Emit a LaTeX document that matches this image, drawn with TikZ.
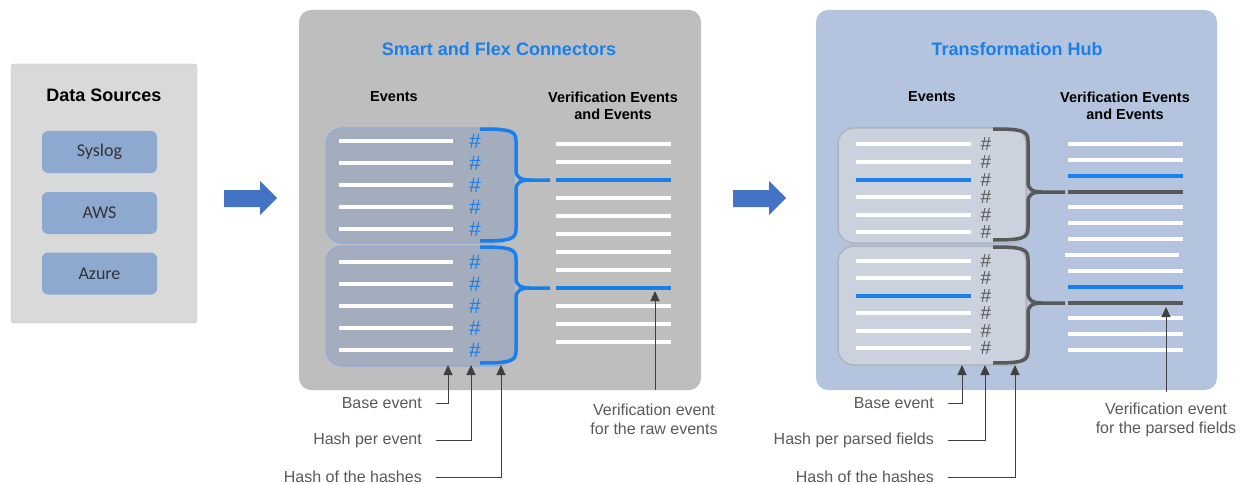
\documentclass[tikz,border=0pt]{standalone}
\usepackage{fontspec}
\setmainfont{Liberation Sans}
\newfontfamily\calibri{Carlito}
\usetikzlibrary{arrows.meta}

\definecolor{dsgrey}{HTML}{D9D9D9}
\definecolor{srcblue}{HTML}{8EA9D0}
\definecolor{flowblue}{HTML}{4472C4}
\definecolor{connbg}{HTML}{BEBEBE}
\definecolor{hubbg}{HTML}{B4C4DE}
\definecolor{hashblue}{HTML}{1A7FE8}
\definecolor{darkgrey}{HTML}{595959}
\definecolor{connbox}{HTML}{A3ADBE}
\definecolor{connedge}{HTML}{8FAAD8}
\definecolor{hubbox}{HTML}{CBD2DD}
\definecolor{hubedge}{HTML}{B0B4BA}

\begin{document}
\begin{tikzpicture}[
    x=1pt, y=-1pt,
    title/.style={font=\fontsize{18}{21}\selectfont\bfseries},
    colhead/.style={font=\fontsize{14.5}{17}\selectfont\bfseries, align=center},
    srcbox/.style={rectangle, rounded corners=6pt, fill=srcblue, minimum width=115pt, minimum height=42pt, font=\calibri\fontsize{18}{21}\selectfont, text=black!80},
    evline/.style={white, line width=3.3pt},
    hashmark/.style 2 args={font=\fontsize{#1}{18}\selectfont, inner sep=0pt, text height=#2, text depth=0pt},
    note/.style={font=\fontsize{16}{19}\selectfont, text=darkgrey, align=center},
    tag/.style={note, anchor=east, inner xsep=14pt, inner ysep=0pt},
    pointer/.style={draw=black!75, line width=1pt, -{Triangle[width=9pt,length=10pt]}},
    brace/.style={line width=3.5pt}
]
\useasboundingbox (0,0) rectangle (1247,484);

% Data sources
\draw[fill=dsgrey, draw=black!25, rounded corners=3pt] (11,64) rectangle (197,323);
\node[title] (dstitle) at (104,95) {Data Sources};
\node[srcbox] (syslog) at (99.5,152) {Syslog};
\node[srcbox] (aws) at (99.5,213) {AWS};
\node[srcbox] (azure) at (99.5,273.5) {Azure};

% Flow arrows
\fill[flowblue] (224,190) -- (260,190) -- (260,181) -- (277,198) -- (260,215) -- (260,207) -- (224,207) -- cycle;
\fill[flowblue] (733,190) -- (769,190) -- (769,181) -- (786,198) -- (769,215) -- (769,207) -- (733,207) -- cycle;

% Smart and Flex Connectors
\fill[connbg, rounded corners=12pt] (299,10) rectangle (701,390);
\node[title, text=hashblue] (conntitle) at (499,49) {Smart and Flex Connectors};
\node[colhead] (connev) at (394,97) {Events};
\node[colhead] (connver) at (613,105.5) {Verification Events\\and Events};

\draw[fill=connbox, draw=connedge, line width=1pt, rounded corners=16pt] (326,128) rectangle (514,243);
\draw[fill=connbox, draw=connedge, line width=1pt, rounded corners=16pt] (326,246) rectangle (514,366);
\foreach \y [count=\i] in {141,163,185,207,229,262,284,306,328,350} {
    \draw[evline] (339,\y) -- (453,\y);
    \node[hashmark={21}{14.5pt}, text=hashblue] (sh\i) at (475,\y) {\#};
}
\foreach \y in {144,162,198,216,234,252,270,306,324,342}
    \draw[evline] (556,\y) -- (671,\y);
\foreach \y in {180,288}
    \draw[hashblue, line width=3.5pt] (556,\y) -- (671,\y);

% Transformation Hub
\fill[hubbg, rounded corners=12pt] (816,10) rectangle (1217,390);
\node[title, text=hashblue] (hubtitle) at (1017,49) {Transformation Hub};
\node[colhead] (hubev) at (932,97) {Events};
\node[colhead] (hubver) at (1125,105.5) {Verification Events\\and Events};

\draw[fill=hubbox, draw=hubedge, line width=1.5pt, rounded corners=16pt] (838,128) rectangle (1026,243);
\draw[fill=hubbox, draw=hubedge, line width=1.5pt, rounded corners=16pt] (838,246) rectangle (1026,365);
\foreach \y [count=\i] in {144,162,180,197,215,232,261,278,296,313,331,348} {
    \draw[evline] (856,\y) -- (971,\y);
    \node[hashmark={19}{13pt}, text=darkgrey] (hh\i) at (986,\y) {\#};
}
\foreach \y in {180,296}
    \draw[hashblue, line width=3.3pt] (856,\y) -- (971,\y);
\foreach \y in {144,160,207,223,239,271,318,334,350}
    \draw[evline] (1068,\y) -- (1183,\y);
\draw[evline] (1065,255) -- (1179,255);
\foreach \y in {176,287}
    \draw[hashblue, line width=3.5pt] (1068,\y) -- (1183,\y);
\foreach \y in {192,303}
    \draw[darkgrey, line width=3.5pt] (1068,\y) -- (1183,\y);

% Braces: hash of the hashes
\foreach \xs/\xv/\xt/\ya/\yt/\yb/\col in {480/516/550/129/180/241/hashblue, 480/516/550/247/288/363/hashblue, 993/1028/1065/129/192/240/darkgrey, 993/1028/1065/247/303/363/darkgrey}
    \draw[brace, draw=\col] (\xs,\ya) .. controls (\xv-5,\ya) and (\xv,\ya+2) .. (\xv,\ya+12) -- (\xv,\yt-10)
        .. controls (\xv,\yt-3) and (\xv+4,\yt) .. (\xv+14,\yt) -- (\xt,\yt)
        (\xv+14,\yt) .. controls (\xv+4,\yt) and (\xv,\yt+3) .. (\xv,\yt+10) -- (\xv,\yb-12)
        .. controls (\xv,\yb-2) and (\xv-5,\yb) .. (\xs,\yb);

% Callouts
\coordinate (sbase) at (448,365);
\coordinate (shash) at (471,365);
\coordinate (sall) at (501,365);
\node[tag] (sbasetxt) at (436,403) {Base event};
\node[tag] (shashtxt) at (436,440) {Hash per event};
\node[tag] (salltxt) at (436,477) {Hash of the hashes};
\draw[pointer] (sbasetxt.east) -| (sbase);
\draw[pointer] (shashtxt.east) -| (shash);
\draw[pointer] (salltxt.east) -| (sall);

\coordinate (sverfoot) at (655,390);
\coordinate (svertip) at (655,291);
\draw[pointer] (sverfoot) -- (svertip);
\node[note] (svertxt) at (654,419) {Verification event\\for the raw events};

\coordinate (hbase) at (962,365);
\coordinate (hhash) at (985,365);
\coordinate (hall) at (1015,365);
\node[tag] (hbasetxt) at (948,403) {Base event};
\node[tag] (hhashtxt) at (948,440) {Hash per parsed fields};
\node[tag] (halltxt) at (948,477) {Hash of the hashes};
\draw[pointer] (hbasetxt.east) -| (hbase);
\draw[pointer] (hhashtxt.east) -| (hhash);
\draw[pointer] (halltxt.east) -| (hall);

\coordinate (hverfoot) at (1166,392);
\coordinate (hvertip) at (1166,307);
\draw[pointer] (hverfoot) -- (hvertip);
\node[note] (hvertxt) at (1166,420) {Verification event\\for the parsed fields};

\end{tikzpicture}
\end{document}
